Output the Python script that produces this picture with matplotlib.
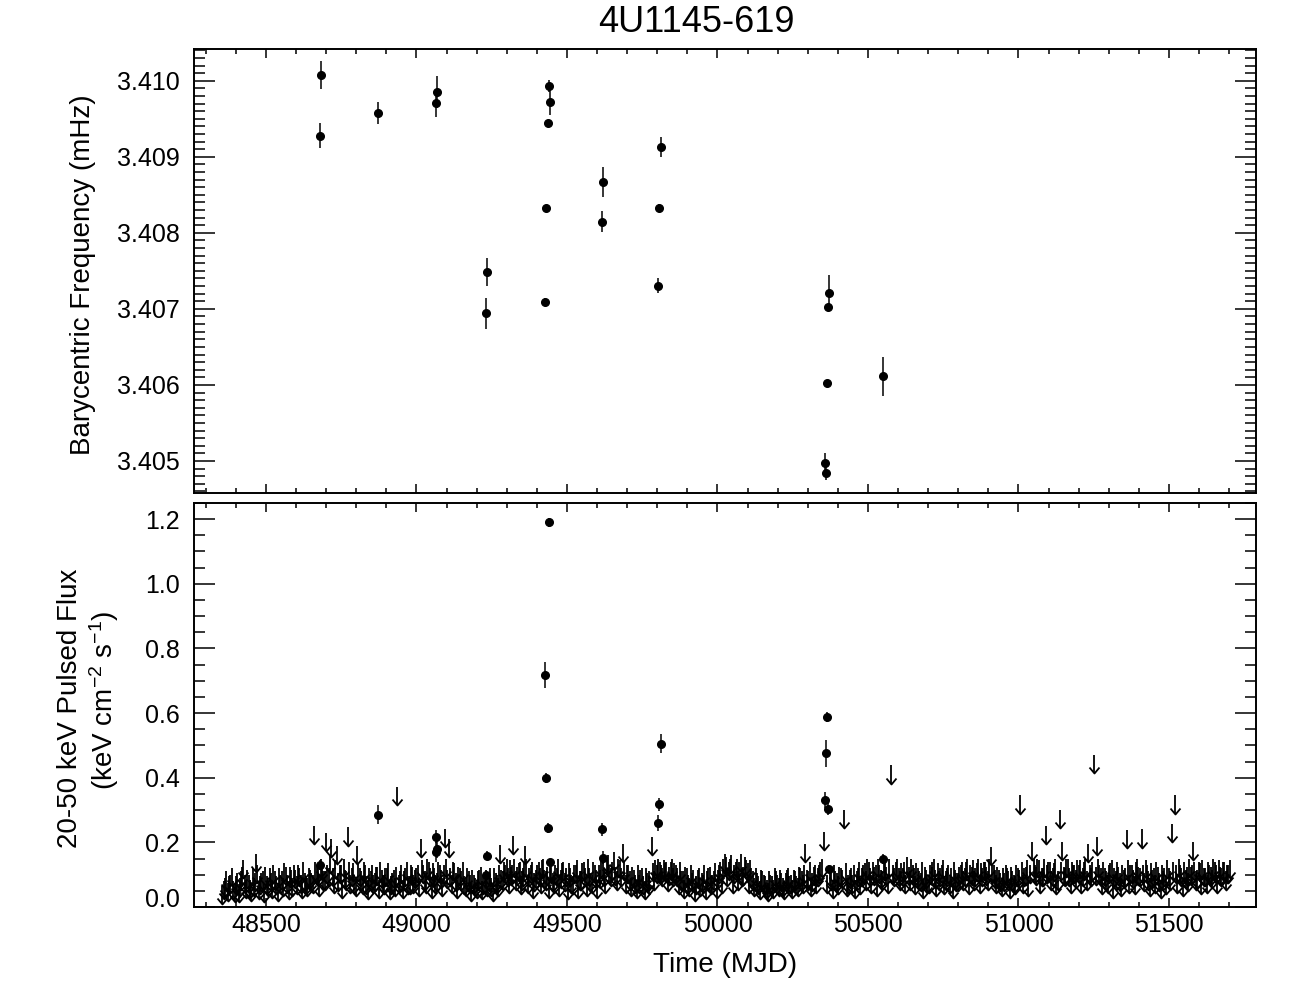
import numpy as np
import matplotlib
matplotlib.use("Agg")
import matplotlib.pyplot as plt
from matplotlib.path import Path
from matplotlib.ticker import MultipleLocator, FixedLocator
from matplotlib.transforms import ScaledTranslation

plt.rcParams['font.family'] = ['Liberation Sans', 'DejaVu Sans']
plt.rcParams['mathtext.default'] = 'regular'

# ---------------- data ----------------
title = "4U1145-619"

# top panel: barycentric frequency (mHz)
freq_t = [48683, 48679, 48871, 49064, 49069, 49440, 49443, 49436, 49431, 49428,
          49620, 49615, 49234, 49231, 49812, 49807, 49802, 50371, 50367, 50363,
          50551, 50356, 50360]
freq_v = [3.410075, 3.409276, 3.409575, 3.409707, 3.409847, 3.409930, 3.409716,
          3.409443, 3.408325, 3.407092, 3.408667, 3.408145, 3.407483, 3.406943,
          3.409128, 3.408325, 3.407303, 3.407207, 3.407026, 3.406026, 3.406111,
          3.404970, 3.404847]
freq_e = [0.000179, 0.000164, 0.000145, 0.000180, 0.000210, 0.000080, 0.000165,
          0.000020, 0.0, 0.000050, 0.000193, 0.000140, 0.000184, 0.000204,
          0.000128, 0.000050, 0.000100, 0.000233, 0.000040, 0.0, 0.000257,
          0.000140, 0.000100]

# bottom panel: detections of pulsed flux
flux_t = [48680, 48871, 49064, 49069, 49066, 49234, 49231, 49428, 49431, 49436,
          49440, 49443, 49615, 49620, 49802, 49807, 49812, 50356, 50360, 50363,
          50367, 50371, 50551]
flux_v = [0.130, 0.286, 0.217, 0.181, 0.170, 0.159, 0.099, 0.717, 0.400, 0.245,
          1.190, 0.139, 0.241, 0.152, 0.260, 0.318, 0.505, 0.332, 0.475, 0.588,
          0.304, 0.119, 0.149]
flux_e = [0.015, 0.030, 0.020, 0.030, 0.030, 0.015, 0.010, 0.040, 0.015, 0.015,
          0.015, 0.010, 0.020, 0.020, 0.025, 0.020, 0.030, 0.025, 0.042, 0.015,
          0.020, 0.010, 0.015]

# bottom panel: upper limits (arrows), in segments
ul_t1 = [48355, 48364, 48373, 48382, 48391, 48400, 48409, 48418, 48425, 48434,
         48443, 48452, 48461, 48467, 48476, 48485, 48494, 48503, 48512, 48521,
         48530, 48539, 48548, 48557, 48566, 48575, 48584, 48593, 48602, 48611,
         48620, 48629, 48638, 48647]
ul_v1 = [0.065, 0.09, 0.075, 0.10, 0.08, 0.095, 0.07, 0.11, 0.146, 0.085,
         0.10, 0.075, 0.09, 0.165, 0.08, 0.105, 0.07, 0.095, 0.12, 0.085,
         0.11, 0.075, 0.10, 0.09, 0.125, 0.08, 0.115, 0.13, 0.095, 0.12,
         0.085, 0.105, 0.09, 0.115]
ul_t2 = [48656, 48659, 48668, 48677, 48686, 48695, 48699, 48708, 48717, 48726,
         48736, 48745, 48754, 48763, 48771, 48780, 48789, 48798, 48803, 48812,
         48821, 48830, 48839, 48848, 48857, 48866, 48875, 48884, 48893, 48902,
         48911, 48920, 48929, 48936, 48945, 48954, 48963, 48972, 48981, 48990]
ul_v2 = [0.10, 0.25, 0.13, 0.09, 0.14, 0.11, 0.228, 0.12, 0.21, 0.10,
         0.19, 0.13, 0.085, 0.115, 0.246, 0.10, 0.135, 0.09, 0.19, 0.12,
         0.095, 0.13, 0.08, 0.11, 0.10, 0.125, 0.085, 0.115, 0.095, 0.12,
         0.08, 0.105, 0.09, 0.371, 0.11, 0.085, 0.12, 0.095, 0.13, 0.10]
ul_t3 = [48999, 49008, 49014, 49023, 49032, 49041, 49050, 49059, 49068, 49077,
         49086, 49095, 49102, 49108, 49117, 49126, 49135, 49144, 49155, 49164,
         49173, 49182, 49191, 49200, 49209, 49218, 49227, 49236, 49245, 49254,
         49263, 49270, 49277, 49286, 49295, 49300, 49309, 49315, 49321, 49330,
         49339, 49348, 49355, 49361, 49370, 49379, 49388, 49397, 49406, 49414,
         49421]
ul_v3 = [0.12, 0.09, 0.211, 0.13, 0.10, 0.14, 0.085, 0.12, 0.105, 0.13,
         0.09, 0.242, 0.115, 0.21, 0.10, 0.135, 0.085, 0.12, 0.139, 0.09,
         0.11, 0.075, 0.10, 0.085, 0.115, 0.08, 0.10, 0.09, 0.12, 0.075,
         0.105, 0.09, 0.191, 0.11, 0.13, 0.15, 0.10, 0.125, 0.22, 0.11,
         0.135, 0.095, 0.12, 0.19, 0.10, 0.13, 0.085, 0.115, 0.14, 0.10,
         0.15]
ul_t4 = [49430, 49439, 49448, 49457, 49466, 49475, 49484, 49493, 49502, 49511,
         49520, 49529, 49538, 49547, 49556, 49565, 49574, 49583, 49592, 49601,
         49610, 49619, 49628, 49637, 49646, 49657, 49666, 49675, 49686, 49695,
         49704, 49713, 49722, 49731, 49740, 49749, 49758, 49767, 49774, 49781,
         49790, 49799, 49808, 49817, 49826, 49835, 49844, 49853, 49862, 49871,
         49880, 49889, 49898, 49907, 49916, 49925, 49934, 49943, 49952, 49961,
         49970, 49979, 49988, 49997, 50006, 50015]
ul_v4 = [0.11, 0.085, 0.13, 0.10, 0.12, 0.09, 0.135, 0.105, 0.08, 0.12,
         0.095, 0.13, 0.085, 0.11, 0.14, 0.09, 0.12, 0.10, 0.13, 0.085,
         0.115, 0.14, 0.10, 0.16, 0.12, 0.17, 0.11, 0.145, 0.196, 0.10,
         0.13, 0.09, 0.115, 0.085, 0.10, 0.12, 0.08, 0.105, 0.095, 0.216,
         0.11, 0.13, 0.14, 0.12, 0.135, 0.105, 0.14, 0.12, 0.13, 0.095,
         0.11, 0.085, 0.12, 0.09, 0.105, 0.075, 0.115, 0.09, 0.10, 0.08,
         0.12, 0.095, 0.11, 0.085, 0.13, 0.10]
ul_t5 = [50024, 50033, 50042, 50051, 50060, 50069, 50077, 50086, 50095, 50104,
         50113, 50122, 50131, 50140, 50149, 50158, 50167, 50176, 50185, 50194,
         50203, 50212, 50221, 50230, 50239, 50248, 50257, 50266, 50275, 50284,
         50292, 50301, 50310, 50319, 50328, 50337, 50347, 50353, 50365, 50374,
         50383, 50392, 50401, 50410, 50421, 50430, 50439, 50448, 50457, 50466,
         50475, 50484, 50493, 50502, 50511, 50520, 50529, 50538, 50547, 50556,
         50565, 50578, 50587, 50597, 50606]
ul_v5 = [0.165, 0.12, 0.15, 0.10, 0.14, 0.11, 0.165, 0.125, 0.145, 0.10,
         0.12, 0.09, 0.105, 0.08, 0.11, 0.095, 0.075, 0.10, 0.085, 0.11,
         0.09, 0.105, 0.08, 0.115, 0.095, 0.085, 0.11, 0.09, 0.12, 0.10,
         0.196, 0.11, 0.09, 0.125, 0.10, 0.13, 0.15, 0.232, 0.10, 0.12,
         0.085, 0.11, 0.095, 0.12, 0.30, 0.09, 0.115, 0.10, 0.085, 0.12,
         0.095, 0.13, 0.11, 0.14, 0.10, 0.125, 0.09, 0.13, 0.11, 0.14,
         0.10, 0.438, 0.12, 0.15, 0.11]
ul_t6 = [50615, 50624, 50630, 50639, 50648, 50657, 50666, 50675, 50684, 50693,
         50702, 50711, 50718, 50727, 50736, 50745, 50754, 50763, 50772, 50781,
         50790, 50799, 50808, 50817, 50826, 50835, 50844, 50853, 50862, 50871,
         50880, 50889, 50898, 50908, 50917, 50926, 50935, 50944, 50953, 50962,
         50971, 50980, 50989, 50998, 51006, 51015, 51024, 51033, 51045, 51054,
         51063, 51072, 51081, 51090, 51099, 51108, 51117, 51126, 51137, 51146,
         51155, 51164, 51173, 51182, 51191]
ul_v6 = [0.12, 0.10, 0.155, 0.11, 0.13, 0.095, 0.12, 0.105, 0.085, 0.115,
         0.10, 0.125, 0.15, 0.09, 0.11, 0.13, 0.095, 0.12, 0.10, 0.085,
         0.115, 0.105, 0.13, 0.11, 0.14, 0.095, 0.125, 0.11, 0.135, 0.10,
         0.12, 0.14, 0.11, 0.185, 0.13, 0.10, 0.115, 0.09, 0.105, 0.12,
         0.085, 0.11, 0.095, 0.12, 0.345, 0.10, 0.125, 0.09, 0.20, 0.13,
         0.15, 0.10, 0.12, 0.25, 0.14, 0.11, 0.135, 0.095, 0.30, 0.20,
         0.12, 0.15, 0.10, 0.13, 0.115]
ul_t7 = [51200, 51209, 51218, 51226, 51232, 51241, 51252, 51260, 51269, 51278,
         51287, 51296, 51305, 51314, 51323, 51332, 51341, 51350, 51359, 51368,
         51377, 51386, 51394, 51403, 51409, 51418, 51427, 51436, 51445, 51454,
         51463, 51472, 51481, 51490, 51499, 51510, 51519, 51528, 51537, 51546,
         51555, 51564, 51573, 51580, 51589, 51598, 51607, 51616, 51625, 51634,
         51643, 51652, 51661, 51670, 51679, 51688, 51697]
ul_v7 = [0.13, 0.10, 0.14, 0.11, 0.196, 0.12, 0.47, 0.216, 0.13, 0.095,
         0.12, 0.10, 0.135, 0.085, 0.11, 0.125, 0.09, 0.115, 0.238, 0.10,
         0.13, 0.095, 0.15, 0.12, 0.24, 0.105, 0.13, 0.09, 0.115, 0.10,
         0.125, 0.085, 0.11, 0.095, 0.12, 0.258, 0.345, 0.10, 0.13, 0.09,
         0.115, 0.105, 0.125, 0.20, 0.11, 0.14, 0.095, 0.12, 0.10, 0.13,
         0.115, 0.14, 0.10, 0.125, 0.14, 0.11, 0.13]

# second, interleaved set of upper limits (the dense band)
ub_t1 = [48359, 48368, 48378, 48387, 48396, 48405, 48414, 48421, 48429, 48438,
         48447, 48456, 48464, 48471, 48480, 48489, 48498, 48507, 48516, 48525,
         48534, 48543, 48552, 48561, 48570, 48579, 48588, 48597, 48606, 48615,
         48624, 48633, 48642, 48651]
ub_v1 = [0.08, 0.11, 0.095, 0.12, 0.07, 0.105, 0.09, 0.125, 0.10, 0.115,
         0.085, 0.12, 0.105, 0.13, 0.095, 0.11, 0.125, 0.09, 0.105, 0.13,
         0.095, 0.12, 0.11, 0.135, 0.10, 0.125, 0.09, 0.115, 0.13, 0.10,
         0.14, 0.095, 0.12, 0.105]
ub_t2 = [48664, 48673, 48682, 48691, 48704, 48713, 48722, 48731, 48740, 48749,
         48758, 48767, 48776, 48785, 48794, 48807, 48816, 48825, 48834, 48843,
         48852, 48861, 48870, 48879, 48888, 48897, 48906, 48915, 48924, 48932,
         48941, 48950, 48959, 48968, 48977, 48986, 48995]
ub_v2 = [0.14, 0.12, 0.15, 0.11, 0.13, 0.16, 0.12, 0.145, 0.105, 0.13,
         0.15, 0.11, 0.14, 0.12, 0.10, 0.135, 0.11, 0.14, 0.095, 0.12,
         0.13, 0.105, 0.125, 0.14, 0.10, 0.12, 0.135, 0.095, 0.115, 0.125,
         0.10, 0.13, 0.11, 0.14, 0.095, 0.125, 0.115]
ub_t3 = [49004, 49018, 49027, 49036, 49045, 49054, 49063, 49072, 49081, 49090,
         49099, 49112, 49121, 49130, 49139, 49149, 49159, 49168, 49177, 49186,
         49195, 49204, 49213, 49222, 49231, 49240, 49249, 49258, 49266, 49273,
         49281, 49290, 49304, 49312, 49318, 49325, 49334, 49343, 49351, 49358,
         49365, 49374, 49383, 49392, 49401, 49410, 49418, 49425]
ub_v3 = [0.13, 0.145, 0.11, 0.15, 0.12, 0.135, 0.10, 0.14, 0.115, 0.13,
         0.15, 0.12, 0.14, 0.105, 0.125, 0.11, 0.095, 0.12, 0.10, 0.115,
         0.09, 0.11, 0.125, 0.095, 0.115, 0.105, 0.09, 0.12, 0.10, 0.13,
         0.115, 0.14, 0.12, 0.145, 0.13, 0.15, 0.125, 0.14, 0.11, 0.135,
         0.15, 0.12, 0.14, 0.105, 0.13, 0.12, 0.145, 0.115]
ub_t4 = [49434, 49443, 49452, 49461, 49470, 49479, 49488, 49497, 49506, 49515,
         49524, 49533, 49542, 49551, 49560, 49569, 49578, 49587, 49596, 49605,
         49614, 49623, 49632, 49641, 49651, 49661, 49670, 49680, 49690, 49699,
         49708, 49717, 49726, 49735, 49744, 49753, 49762, 49771, 49785, 49794,
         49803, 49812, 49821, 49830, 49839, 49848, 49857, 49866, 49875, 49884,
         49893, 49902, 49911, 49920, 49929, 49938, 49947, 49956, 49965, 49974,
         49983, 49992, 50001, 50010, 50019]
ub_v4 = [0.125, 0.14, 0.105, 0.13, 0.15, 0.115, 0.14, 0.12, 0.135, 0.10,
         0.13, 0.145, 0.11, 0.135, 0.12, 0.15, 0.105, 0.14, 0.115, 0.13,
         0.15, 0.12, 0.155, 0.13, 0.14, 0.125, 0.15, 0.12, 0.14, 0.13,
         0.11, 0.125, 0.10, 0.13, 0.115, 0.095, 0.12, 0.11, 0.135, 0.145,
         0.15, 0.13, 0.145, 0.14, 0.125, 0.15, 0.135, 0.12, 0.14, 0.11,
         0.125, 0.10, 0.13, 0.115, 0.095, 0.12, 0.105, 0.13, 0.11, 0.125,
         0.10, 0.135, 0.115, 0.14, 0.15]
ub_t5 = [50028, 50037, 50046, 50055, 50064, 50073, 50082, 50091, 50100, 50109,
         50118, 50127, 50136, 50145, 50154, 50163, 50172, 50181, 50190, 50199,
         50208, 50217, 50226, 50235, 50244, 50253, 50262, 50271, 50280, 50288,
         50297, 50306, 50315, 50324, 50333, 50342, 50378, 50387, 50396, 50405,
         50415, 50426, 50435, 50444, 50453, 50462, 50471, 50480, 50489, 50498,
         50507, 50516, 50525, 50534, 50543, 50552, 50561, 50570, 50583, 50592,
         50602, 50610]
ub_v5 = [0.155, 0.14, 0.16, 0.13, 0.15, 0.14, 0.12, 0.155, 0.135, 0.145,
         0.11, 0.12, 0.095, 0.115, 0.10, 0.085, 0.11, 0.095, 0.12, 0.10,
         0.115, 0.09, 0.105, 0.12, 0.10, 0.115, 0.095, 0.125, 0.11, 0.13,
         0.115, 0.14, 0.105, 0.13, 0.12, 0.14, 0.11, 0.13, 0.105, 0.125,
         0.115, 0.135, 0.10, 0.12, 0.13, 0.11, 0.14, 0.12, 0.135, 0.15,
         0.12, 0.14, 0.13, 0.15, 0.115, 0.14, 0.125, 0.15, 0.13, 0.14,
         0.12, 0.135]
ub_t6 = [50619, 50635, 50643, 50652, 50661, 50670, 50679, 50688, 50697, 50706,
         50714, 50722, 50731, 50740, 50749, 50758, 50767, 50776, 50785, 50794,
         50803, 50812, 50821, 50830, 50839, 50848, 50857, 50866, 50875, 50884,
         50893, 50903, 50912, 50921, 50930, 50939, 50948, 50957, 50966, 50975,
         50984, 50993, 51002, 51010, 51019, 51028, 51038, 51050, 51059, 51068,
         51077, 51086, 51095, 51104, 51113, 51122, 51131, 51141, 51150, 51159,
         51168, 51177, 51186, 51195]
ub_v6 = [0.14, 0.125, 0.15, 0.12, 0.135, 0.11, 0.14, 0.125, 0.10, 0.13,
         0.14, 0.115, 0.135, 0.12, 0.145, 0.11, 0.13, 0.12, 0.14, 0.105,
         0.125, 0.14, 0.12, 0.15, 0.13, 0.145, 0.12, 0.15, 0.135, 0.14,
         0.125, 0.15, 0.13, 0.115, 0.125, 0.105, 0.12, 0.13, 0.11, 0.125,
         0.10, 0.13, 0.115, 0.14, 0.12, 0.145, 0.13, 0.15, 0.125, 0.145,
         0.12, 0.15, 0.13, 0.14, 0.12, 0.15, 0.11, 0.14, 0.125, 0.15,
         0.12, 0.14, 0.13, 0.145]
ub_t7 = [51204, 51213, 51222, 51236, 51245, 51256, 51264, 51273, 51282, 51291,
         51300, 51309, 51318, 51327, 51336, 51345, 51354, 51363, 51372, 51381,
         51390, 51398, 51413, 51422, 51431, 51440, 51449, 51458, 51467, 51476,
         51485, 51494, 51504, 51514, 51523, 51532, 51541, 51550, 51559, 51568,
         51576, 51584, 51593, 51602, 51611, 51620, 51629, 51638, 51647, 51656,
         51665, 51674, 51683, 51692, 51701]
ub_v7 = [0.145, 0.12, 0.15, 0.13, 0.14, 0.125, 0.15, 0.12, 0.14, 0.11,
         0.13, 0.145, 0.12, 0.14, 0.105, 0.13, 0.12, 0.145, 0.13, 0.115,
         0.14, 0.125, 0.13, 0.145, 0.11, 0.135, 0.12, 0.14, 0.105, 0.13,
         0.12, 0.145, 0.11, 0.14, 0.13, 0.15, 0.12, 0.14, 0.125, 0.15,
         0.13, 0.14, 0.115, 0.135, 0.145, 0.12, 0.14, 0.125, 0.15, 0.13,
         0.145, 0.12, 0.14, 0.13, 0.145]

x_ticks = [48500, 49000, 49500, 50000, 50500, 51000, 51500]
freq_ticks = [3.405, 3.406, 3.407, 3.408, 3.409, 3.410]
flux_ticks = [0.0, 0.2, 0.4, 0.6, 0.8, 1.0, 1.2]

# ---------------- styling ----------------
XLIM = (48261, 51789)
ARROW_LEN = 0.056
lw = 1.1
alw = 1.3

fig = plt.figure(figsize=(12.96, 10.08), dpi=100)
ax1 = fig.add_axes([194/1296, 1-493/1008, 1062/1296, 444/1008])
ax2 = fig.add_axes([194/1296, 1-907/1008, 1062/1296, 404/1008])

for ax in (ax1, ax2):
    for s in ax.spines.values():
        s.set_linewidth(1.4)
    ax.set_xlim(*XLIM)
    ax.xaxis.set_major_locator(FixedLocator(x_ticks))
    ax.xaxis.set_minor_locator(MultipleLocator(100))
    ax.tick_params(axis='both', which='both', direction='in', top=True, right=True,
                   width=1.1, labelsize=18)
    ax.tick_params(axis='x', which='major', length=6.5, pad=4)
    ax.tick_params(axis='x', which='minor', length=3.6)
    ax.tick_params(axis='y', which='major', length=15, pad=10)
    ax.tick_params(axis='y', which='minor', length=8)

# top panel
ax1.errorbar(freq_t, freq_v, yerr=freq_e, fmt='o', color='black', ms=5.5,
             elinewidth=lw, capsize=0)
ax1.set_ylim(3.404579, 3.410417)
ax1.yaxis.set_major_locator(FixedLocator(freq_ticks))
ax1.yaxis.set_minor_locator(MultipleLocator(0.0001))
ax1.set_yticklabels([f"{v:.3f}" for v in freq_ticks])
ax1.tick_params(axis='x', labelbottom=False)

# bottom panel
ul_t = np.array(ul_t1 + ul_t2 + ul_t3 + ul_t4 + ul_t5 + ul_t6 + ul_t7
                + ub_t1 + ub_t2 + ub_t3 + ub_t4 + ub_t5 + ub_t6 + ub_t7, dtype=float)
ul_v = np.array(ul_v1 + ul_v2 + ul_v3 + ul_v4 + ul_v5 + ul_v6 + ul_v7
                + ub_v1 + ub_v2 + ub_v3 + ub_v4 + ub_v5 + ub_v6 + ub_v7, dtype=float)
ax2.vlines(ul_t, ul_v - ARROW_LEN, ul_v, color='black', lw=alw)
vhead = Path([(-5, 6), (0, 0), (5, 6)], [Path.MOVETO, Path.LINETO, Path.LINETO])
ax2.plot(ul_t, ul_v - ARROW_LEN, ls='none', marker=vhead, ms=8.6,
         mfc='none', mec='black', mew=alw)
ax2.errorbar(flux_t, flux_v, yerr=flux_e, fmt='o', color='black', ms=5.5,
             elinewidth=lw, capsize=0)
ax2.set_ylim(0.0, 1.25)
ax2.yaxis.set_major_locator(FixedLocator(flux_ticks))
ax2.yaxis.set_minor_locator(MultipleLocator(0.05))
ax2.set_yticklabels([f"{v:.1f}" for v in flux_ticks])
ax2.set_xticklabels([str(v) for v in x_ticks])

# lift the 0.0 label like the original
lab0 = ax2.get_yticklabels()[0]
lab0.set_transform(lab0.get_transform() + ScaledTranslation(0, 7/72, fig.dpi_scale_trans))

# texts
fig.text(696/1296, 1-22/1008, title, ha='center', va='center', fontsize=26)
fig.text(83/1296, 1-275/1008, "Barycentric Frequency (mHz)", rotation=90,
         ha='center', va='center', fontsize=20)
fig.text(70/1296, 1-708/1008, "20-50 keV Pulsed Flux", rotation=90,
         ha='center', va='center', fontsize=20)
fig.text(104/1296, 1-700/1008, r"(keV cm$^{-2}$ s$^{-1}$)", rotation=90,
         ha='center', va='center', fontsize=20)
fig.text(725/1296, 1-965/1008, "Time (MJD)", ha='center', va='center', fontsize=20)

fig.savefig("out.png", dpi=100)
